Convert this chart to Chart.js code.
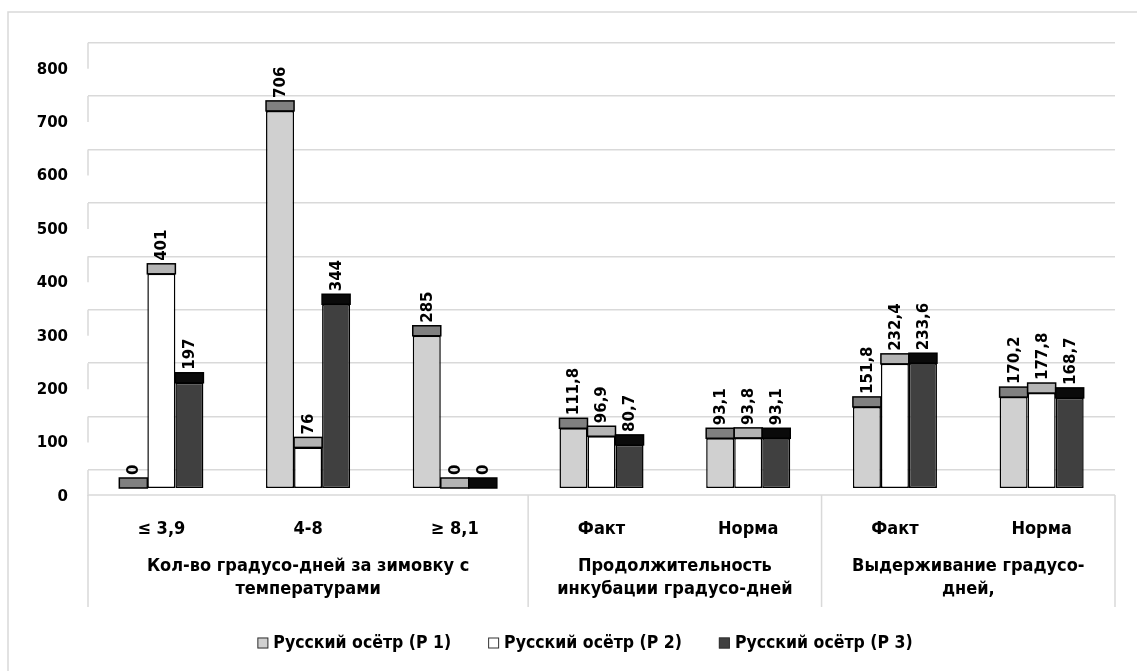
<!DOCTYPE html>
<html>
<head>
<meta charset="utf-8">
<script src="https://cdn.jsdelivr.net/npm/chart.js@4.4.1/dist/chart.umd.min.js"></script>
<style>
  html, body { margin: 0; background: #fff; overflow: hidden; }
  canvas { display: block; }
</style>
</head>
<body>
<canvas id="myChart" width="1137" height="671"></canvas>
<script>
var categories = ['≤ 3,9', '4-8', '≥ 8,1', 'Факт', 'Норма', 'Факт', 'Норма'];
var groupLabels = [
  ['Кол-во градусо-дней за зимовку с', 'температурами'],
  ['Продолжительность', 'инкубации градусо-дней'],
  ['Выдерживание градусо-', 'дней,']
];
var groupSizes = [3, 2, 2];
var seriesNames = ['Русский осётр (Р 1)', 'Русский осётр (Р 2)', 'Русский осётр (Р 3)'];
var p1 = [0, 706, 285, 111.8, 93.1, 151.8, 170.2];
var p2 = [401, 76, 0, 96.9, 93.8, 232.4, 177.8];
var p3 = [197, 344, 0, 80.7, 93.1, 233.6, 168.7];
var yTicks = [0, 100, 200, 300, 400, 500, 600, 700, 800];

var faceColors = ['#d0d0d0', '#ffffff', '#404040'];
var capColors = ['#808080', '#b4b4b4', '#0a0a0a'];
var narrow = "'Liberation Sans Narrow', 'DejaVu Sans Condensed', sans-serif";

function fmt(v) {
  return String(v).replace('.', ',');
}

// cap on top of each bar (fake 3D top) + rotated value labels
var capPlugin = {
  id: 'caps',
  afterDatasetsDraw: function(chart) {
    var ctx = chart.ctx;
    ctx.save();
    chart.data.datasets.forEach(function(ds, di) {
      chart.getDatasetMeta(di).data.forEach(function(bar, i) {
        var w = bar.width, capH = 10;
        ctx.fillStyle = capColors[di];
        ctx.strokeStyle = '#000';
        ctx.lineWidth = 1.5;
        ctx.fillRect(bar.x - w / 2, bar.y - capH, w, capH);
        ctx.strokeRect(bar.x - w / 2, bar.y - capH, w, capH);
        ctx.save();
        ctx.translate(bar.x + 1, bar.y - capH - 3);
        ctx.rotate(-Math.PI / 2);
        ctx.fillStyle = '#000';
        ctx.font = "bold 15px 'DejaVu Sans', sans-serif";
        ctx.textAlign = 'left';
        ctx.textBaseline = 'middle';
        ctx.fillText(fmt(ds.data[i]), 0, 0);
        ctx.restore();
      });
    });
    ctx.restore();
  }
};

var decorPlugin = {
  id: 'decor',
  beforeDraw: function(chart) {
    var ctx = chart.ctx;
    var area = chart.chartArea;
    var y2 = chart.scales.y2;
    ctx.save();
    ctx.strokeStyle = '#d9d9d9';
    ctx.lineWidth = 1.5;
    ctx.beginPath();
    ctx.moveTo(8, 671);
    ctx.lineTo(8, 12);
    ctx.lineTo(1137, 12);
    ctx.stroke();
    // side wall stubs
    yTicks.forEach(function(v) {
      var py = y2.getPixelForValue(v);
      ctx.beginPath();
      ctx.moveTo(area.left, py);
      ctx.lineTo(area.left, py + 26);
      ctx.stroke();
    });
    ctx.restore();
  },
  afterDraw: function(chart) {
    var ctx = chart.ctx;
    var area = chart.chartArea;
    var x = chart.scales.x;
    var floor = chart.scales.y.getPixelForValue(0) + 7;
    ctx.save();
    ctx.strokeStyle = '#d9d9d9';
    ctx.lineWidth = 1.5;
    ctx.beginPath();
    ctx.moveTo(area.left, floor);
    ctx.lineTo(area.right, floor);
    ctx.stroke();

    var bounds = [area.left];
    var idx = 0;
    groupSizes.forEach(function(n) {
      idx += n;
      if (idx < categories.length) {
        bounds.push((x.getPixelForValue(idx - 1) + x.getPixelForValue(idx)) / 2);
      } else {
        bounds.push(area.right);
      }
    });
    bounds.forEach(function(bx) {
      ctx.beginPath();
      ctx.moveTo(bx, floor);
      ctx.lineTo(bx, 607);
      ctx.stroke();
    });

    ctx.fillStyle = '#000';
    ctx.font = 'bold 18px ' + narrow;
    ctx.textAlign = 'center';
    ctx.textBaseline = 'middle';
    groupLabels.forEach(function(lines, g) {
      var cx = (bounds[g] + bounds[g + 1]) / 2;
      lines.forEach(function(t, li) {
        ctx.fillText(t, cx, 566 + li * 23);
      });
    });

    // legend
    ctx.font = 'bold 17.5px ' + narrow;
    ctx.textAlign = 'left';
    var box = 11, gap = 5, spacing = 37;
    var widths = seriesNames.map(function(t) { return box + gap + ctx.measureText(t).width; });
    var total = widths.reduce(function(a, b) { return a + b; }, 0) + spacing * (widths.length - 1);
    var lx = 585 - total / 2, ly = 643;
    seriesNames.forEach(function(t, i) {
      ctx.fillStyle = faceColors[i];
      ctx.fillRect(lx, ly - box / 2, box, box);
      ctx.strokeStyle = '#333';
      ctx.lineWidth = 1;
      ctx.strokeRect(lx + 0.5, ly - box / 2 + 0.5, box - 1, box - 1);
      ctx.fillStyle = '#000';
      ctx.fillText(t, lx + box + gap, ly);
      lx += widths[i] + spacing;
    });
    ctx.restore();
  }
};

document.addEventListener('DOMContentLoaded', function() {
  var ctx = document.getElementById('myChart').getContext('2d');
  var chart = new Chart(ctx, {
    type: 'bar',
    data: {
      labels: categories,
      datasets: [p1, p2, p3].map(function(d, i) {
        return {
          label: seriesNames[i],
          data: d,
          backgroundColor: faceColors[i],
          borderColor: '#000',
          borderWidth: 1.5,
          borderSkipped: false,
          barPercentage: 1,
          categoryPercentage: 0.573
        };
      })
    },
    options: {
      responsive: false,
      animation: false,
      layout: { padding: { left: 0, right: 22, top: 42, bottom: 0 } },
      plugins: {
        tooltip: { enabled: false },
        legend: { display: false }
      },
      scales: {
        x: {
          grid: { display: false },
          border: { display: false },
          ticks: {
            color: '#000',
            padding: 23,
            font: { family: narrow, size: 18, weight: 'bold' }
          },
          afterFit: function(s) { s.height = 183; }
        },
        y: {
          min: 0,
          max: 835,
          grid: { display: false, drawTicks: false },
          border: { display: false },
          afterBuildTicks: function(s) {
            s.ticks = yTicks.map(function(v) { return { value: v }; });
          },
          ticks: {
            color: '#000',
            padding: 20,
            labelOffset: 9,
            font: { family: "'DejaVu Sans', sans-serif", size: 15, weight: 'bold' }
          },
          afterFit: function(s) { s.width = 88; }
        },
        y2: {
          position: 'right',
          min: -33.7,
          max: 801.3,
          grid: { color: '#d9d9d9', lineWidth: 1.5, drawTicks: false },
          border: { display: false },
          afterBuildTicks: function(s) {
            s.ticks = yTicks.map(function(v) { return { value: v }; });
          },
          ticks: { display: false },
          afterFit: function(s) { s.width = 0; }
        }
      }
    },
    plugins: [decorPlugin, capPlugin]
  });
});
</script>
</body>
</html>
